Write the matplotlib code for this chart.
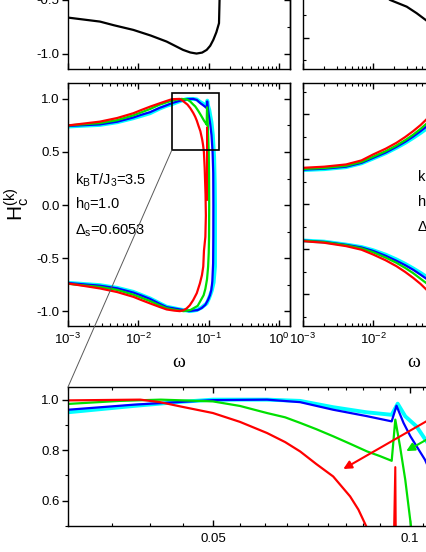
import numpy as np
import matplotlib.pyplot as plt
from matplotlib.patches import Rectangle, ConnectionPatch
from matplotlib.ticker import (LogLocator, NullFormatter, MultipleLocator,
                               FixedLocator, FormatStrFormatter)

plt.rcParams["font.family"] = ["Liberation Sans", "DejaVu Sans"]
plt.rcParams["mathtext.default"] = "regular"
plt.rcParams["axes.linewidth"] = 1.0

# ---- data, (omega, H) pairs ------------------------------------------------
# top-left panel (black loop, only its lower part is visible)
top_pts = [(0.001, -0.664), (0.00285, -0.701), (0.0045, -0.735), (0.0085, -0.778),
           (0.015, -0.83), (0.0253, -0.886), (0.0433, -0.963), (0.055, -0.987),
           (0.0674, -0.997), (0.081, -0.988), (0.094, -0.963), (0.1055, -0.925),
           (0.1168, -0.87), (0.129, -0.80), (0.1407, -0.716), (0.1445, -0.40),
           (0.146, 0.0)]

# top-right panel (black)
topr_pts = [(0.010, -0.17), (0.0173, -0.233), (0.0299, -0.263), (0.0414, -0.292),
            (0.0573, -0.325), (0.065, -0.34)]

# middle-left loops, one list per colour (upper branch -> lower branch)
red_pts = [(0.001, 0.75), (0.00285, 0.786), (0.005, 0.82), (0.0085, 0.865),
           (0.011, 0.895), (0.0147, 0.927), (0.02, 0.958), (0.0253, 0.981),
           (0.030, 0.997), (0.0387, 1.0), (0.0415, 0.99), (0.0446, 0.973),
           (0.050, 0.947), (0.055, 0.912), (0.0605, 0.868), (0.0645, 0.832),
           (0.068, 0.795), (0.072, 0.745), (0.0764, 0.696), (0.0811, 0.617),
           (0.0835, 0.565), (0.0858, 0.50), (0.088, 0.35), (0.0905, 0.10),
           (0.0915, -0.10), (0.090, -0.30), (0.086, -0.43), (0.084, -0.58),
           (0.0805, -0.66), (0.0752, -0.739), (0.068, -0.83), (0.0604, -0.896),
           (0.054, -0.945), (0.0486, -0.975), (0.0435, -0.993), (0.039, -1.0),
           (0.0325, -0.995), (0.0253, -0.984), (0.02, -0.96), (0.0147, -0.927),
           (0.011, -0.895), (0.0085, -0.865), (0.005, -0.82), (0.00285, -0.786),
           (0.001, -0.739)]
red_spike = [(0.0940, 0.05), (0.0951, 0.733), (0.0955, 0.05)]

green_pts = [(0.001, 0.75), (0.00285, 0.772), (0.005, 0.80), (0.0085, 0.845),
             (0.011, 0.873), (0.0147, 0.905), (0.02, 0.945), (0.0253, 0.968),
             (0.030, 0.983), (0.036, 0.995), (0.0416, 1.0), (0.050, 0.993),
             (0.055, 0.975), (0.0605, 0.947), (0.0645, 0.93), (0.068, 0.908),
             (0.072, 0.883), (0.0764, 0.855), (0.081, 0.826), (0.0861, 0.795),
             (0.090, 0.777), (0.0939, 0.758), (0.0951, 0.921), (0.0967, 0.815),
             (0.0985, 0.683), (0.1005, 0.50), (0.1015, 0.30), (0.102, 0.0),
             (0.1015, -0.30), (0.1005, -0.45), (0.0985, -0.58), (0.095, -0.70),
             (0.090, -0.79), (0.085, -0.85), (0.070, -0.95), (0.055, -0.99),
             (0.044, -1.0), (0.035, -0.99), (0.0253, -0.972), (0.02, -0.945),
             (0.0147, -0.905), (0.011, -0.873), (0.0085, -0.845), (0.005, -0.80),
             (0.00285, -0.772), (0.001, -0.742)]

blue_pts = [(0.001, 0.745), (0.00285, 0.76), (0.005, 0.785), (0.0085, 0.825),
            (0.011, 0.85), (0.0147, 0.875), (0.02, 0.915), (0.0253, 0.94),
            (0.030, 0.96), (0.0378, 0.98), (0.044, 0.99), (0.050, 0.998),
            (0.0605, 1.0), (0.068, 0.99), (0.0764, 0.96), (0.0859, 0.935),
            (0.0939, 0.914), (0.0955, 0.976), (0.0979, 0.908), (0.1003, 0.855),
            (0.1056, 0.762), (0.110, 0.66), (0.114, 0.50), (0.1165, 0.30),
            (0.117, 0.0), (0.1168, -0.30), (0.1160, -0.55), (0.1130, -0.72),
            (0.1095, -0.80), (0.1047, -0.85), (0.098, -0.895), (0.090, -0.94),
            (0.080, -0.97), (0.070, -0.99), (0.052, -1.0), (0.040, -0.985),
            (0.0253, -0.962), (0.02, -0.93), (0.0147, -0.885), (0.011, -0.852),
            (0.0085, -0.825), (0.005, -0.785), (0.00285, -0.76), (0.001, -0.735)]

cyan_pts = [(0.001, 0.74), (0.00285, 0.755), (0.005, 0.78), (0.0085, 0.818),
            (0.011, 0.84), (0.0147, 0.865), (0.02, 0.908), (0.0253, 0.935),
            (0.030, 0.95), (0.0378, 0.975), (0.044, 0.99), (0.050, 1.0),
            (0.0605, 1.0), (0.068, 0.995), (0.0764, 0.97), (0.0859, 0.95),
            (0.0939, 0.94), (0.0959, 0.984), (0.0985, 0.934), (0.1025, 0.894),
            (0.1056, 0.844), (0.110, 0.78), (0.115, 0.66), (0.120, 0.45),
            (0.1225, 0.20), (0.1235, 0.0), (0.1235, -0.30), (0.1233, -0.58),
            (0.1180, -0.73), (0.1106, -0.81), (0.102, -0.875), (0.094, -0.927),
            (0.080, -0.965), (0.0678, -0.99), (0.055, -1.0), (0.040, -0.985),
            (0.0253, -0.958), (0.02, -0.925), (0.0147, -0.88), (0.011, -0.847),
            (0.0085, -0.818), (0.005, -0.78), (0.00285, -0.755), (0.001, -0.733)]

# middle-right panel, upper and lower branches
mr_w = [0.001, 0.002, 0.0041, 0.0068, 0.0099, 0.015, 0.0213, 0.0285, 0.0369, 0.047, 0.060]
mr_up = {"red": [0.163, 0.168, 0.178, 0.196, 0.222, 0.248, 0.274, 0.300, 0.326, 0.353, 0.385],
         "green": [0.158, 0.162, 0.172, 0.189, 0.212, 0.237, 0.262, 0.286, 0.310, 0.336, 0.365],
         "blue": [0.155, 0.159, 0.168, 0.185, 0.207, 0.231, 0.256, 0.279, 0.302, 0.326, 0.352],
         "cyan": [0.153, 0.157, 0.166, 0.183, 0.204, 0.228, 0.252, 0.274, 0.296, 0.318, 0.342]}
mr_lo = {"red": [-0.163, -0.170, -0.185, -0.201, -0.222, -0.248, -0.274, -0.300, -0.326, -0.353, -0.385],
         "green": [-0.161, -0.167, -0.181, -0.195, -0.212, -0.236, -0.259, -0.282, -0.305, -0.330, -0.355],
         "blue": [-0.160, -0.166, -0.179, -0.191, -0.206, -0.228, -0.250, -0.270, -0.290, -0.312, -0.335],
         "cyan": [-0.160, -0.165, -0.178, -0.189, -0.203, -0.223, -0.244, -0.264, -0.284, -0.304, -0.326]}

colors = {"red": "#ff0000", "green": "#00e000", "blue": "#0000ff", "cyan": "#00ffff"}
widths = {"red": 1.6, "green": 1.6, "blue": 1.6, "cyan": 2.8}
loops = {"cyan": cyan_pts, "blue": blue_pts, "green": green_pts, "red": red_pts}

# zoom window (omega, H)
zoom_w = [0.0301, 0.1406]
zoom_h = [0.52, 1.057]

# ---- figure ---------------------------------------------------------------
W, H = 426, 552
fig = plt.figure(figsize=(W / 100, H / 100), dpi=100)


def px_axes(left, top, width, height):
    return fig.add_axes([left / W, 1 - (top + height) / H, width / W, height / H])


def xy(pts):
    a = np.array(pts)
    return a[:, 0], a[:, 1]


def log_x(ax, labels=True):
    ax.set_xscale("log")
    ax.set_xlim(1e-3, 1.44)
    ax.xaxis.set_major_locator(LogLocator(base=10, numticks=10))
    ax.xaxis.set_minor_locator(LogLocator(base=10, subs=range(2, 10), numticks=20))
    ax.xaxis.set_minor_formatter(NullFormatter())
    ax.tick_params(axis="x", which="both", direction="in", top=True, bottom=True,
                   labelbottom=labels, labelsize=9.5, pad=4)
    ax.tick_params(axis="x", which="major", length=4.5, width=1)
    ax.tick_params(axis="x", which="minor", length=2.5, width=0.8)


def left_y(ax, lo, hi, majors):
    ax.set_ylim(lo, hi)
    ax.set_yticks(majors)
    ax.yaxis.set_major_formatter(FormatStrFormatter("%.1f"))
    ax.tick_params(axis="y", which="major", direction="out", length=4, width=1,
                   labelsize=9.5, pad=2, right=False)
    sec = ax.secondary_yaxis("right")
    sec.set_yticks(majors)
    sec.yaxis.set_minor_locator(MultipleLocator(0.25))
    sec.tick_params(axis="y", which="both", direction="in", labelright=False)
    sec.tick_params(axis="y", which="major", length=4, width=1)
    sec.tick_params(axis="y", which="minor", length=2.5, width=0.8)


def right_y(ax):
    ax.set_ylim(-0.54, 0.54)
    ax.set_yticks([-0.4, -0.2, 0.0, 0.2, 0.4])
    ax.yaxis.set_minor_locator(MultipleLocator(0.1))
    ax.tick_params(axis="y", which="both", direction="in", left=True, right=True,
                   labelleft=False)
    ax.tick_params(axis="y", which="major", length=4, width=1)
    ax.tick_params(axis="y", which="minor", length=2.5, width=0.8)


# top row (only the bottom strip is visible)
ax_tl = px_axes(68, -174, 222, 243)
log_x(ax_tl, labels=False)
left_y(ax_tl, -1.14, 1.11, [-1.0, -0.5])
ax_tl.plot(*xy(top_pts), color="black", lw=1.6)

ax_tr = px_axes(303, -174, 222, 243)
log_x(ax_tr, labels=False)
right_y(ax_tr)
ax_tr.plot(*xy(topr_pts), color="black", lw=1.6)

# middle row
ax_ml = px_axes(68, 83, 222, 243)
log_x(ax_ml)
left_y(ax_ml, -1.14, 1.15, [-1.0, -0.5, 0.0, 0.5, 1.0])
for name, pts in loops.items():
    ax_ml.plot(*xy(pts), color=colors[name], lw=widths[name], solid_joinstyle="round")
ax_ml.plot(*xy(red_spike), color=colors["red"], lw=1.2)
ax_ml.add_patch(Rectangle((zoom_w[0], zoom_h[0]), zoom_w[1] - zoom_w[0],
                          zoom_h[1] - zoom_h[0], fill=False, ec="black", lw=1.2,
                          zorder=5))
ax_ml.set_xlabel("ω", family="Liberation Serif", fontsize=14, labelpad=5)
ax_ml.text(0.032, 0.601, "k$_B$T/J$_3$=3.5", transform=ax_ml.transAxes,
           fontsize=10.5, va="center")
ax_ml.text(0.032, 0.502, "h$_0$=1.0", transform=ax_ml.transAxes,
           fontsize=10.5, va="center")
ax_ml.text(0.032, 0.393, "Δ$_s$=0.6053", transform=ax_ml.transAxes,
           fontsize=10.5, va="center")

ax_mr = px_axes(303, 83, 222, 243)
log_x(ax_mr)
right_y(ax_mr)
for name in ["cyan", "blue", "green", "red"]:
    ax_mr.plot(mr_w, mr_up[name], color=colors[name], lw=widths[name])
    ax_mr.plot(mr_w, mr_lo[name], color=colors[name], lw=widths[name])
ax_mr.set_xlabel("ω", family="Liberation Serif", fontsize=14, labelpad=5)
for yy, s in zip([0.614, 0.512, 0.409], ["k", "h", "Δ"]):
    ax_mr.text(0.518, yy, s, transform=ax_mr.transAxes, fontsize=10.5, va="center")

fig.text(0.04, 0.63, "H$_c^{(k)}$", rotation=90, fontsize=15, ha="center", va="center")

# bottom zoom panel
ax_b = px_axes(68, 387, 437, 139)
ax_b.set_xscale("log")
ax_b.set_xlim(0.03, 0.14)
ax_b.set_ylim(0.5, 1.05)
ax_b.xaxis.set_major_locator(FixedLocator([0.05, 0.1]))
ax_b.xaxis.set_major_formatter(FormatStrFormatter("%g"))
ax_b.xaxis.set_minor_locator(MultipleLocator(0.005))
ax_b.xaxis.set_minor_formatter(NullFormatter())
ax_b.tick_params(axis="x", which="both", direction="in", top=True, bottom=True,
                 labelsize=9.5, pad=5)
ax_b.tick_params(axis="x", which="major", length=4.5, width=1)
ax_b.tick_params(axis="x", which="minor", length=2.5, width=0.8)
ax_b.set_yticks([0.6, 0.8, 1.0])
ax_b.yaxis.set_major_formatter(FormatStrFormatter("%.1f"))
ax_b.yaxis.set_minor_locator(MultipleLocator(0.1))
ax_b.tick_params(axis="y", which="both", direction="out", labelsize=9.5, pad=2)
ax_b.tick_params(axis="y", which="major", length=4, width=1)
ax_b.tick_params(axis="y", which="minor", length=2.5, width=0.8)
for name, pts in loops.items():
    ax_b.plot(*xy(pts), color=colors[name], lw=widths[name], solid_joinstyle="round")
ax_b.plot(*xy(red_spike), color=colors["red"], lw=1.5)
ax_b.annotate("", xy=(0.0785, 0.72), xytext=(0.125, 1.02),
              arrowprops=dict(arrowstyle="-|>", color="red", lw=1.5, mutation_scale=12))
ax_b.annotate("", xy=(0.098, 0.791), xytext=(0.125, 0.945),
              arrowprops=dict(arrowstyle="-|>", color=colors["green"], lw=1.5,
                              mutation_scale=12))

con = ConnectionPatch(xyA=(zoom_w[0], zoom_h[0]), coordsA=ax_ml.transData,
                      xyB=(0, 1), coordsB=ax_b.transAxes, color="0.35", lw=0.7)
fig.add_artist(con)

fig.savefig("out.png", dpi=100)
